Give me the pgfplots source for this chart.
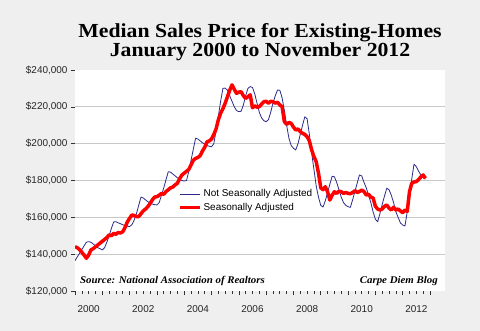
\documentclass[border=0pt]{standalone}
\usepackage{fontspec}
\setmainfont{Liberation Serif}
\setsansfont{Liberation Sans}
\newfontfamily\titlefont{Liberation Serif}[FakeStretch=1.09]
\newfontfamily\srcfont{Liberation Serif}[FakeStretch=1.06]
\usepackage{pgfplots}
\usepackage{pgfplotstable}
\pgfplotsset{compat=1.18}
\definecolor{bg}{HTML}{EFEFEF}
\definecolor{nsa}{HTML}{2B2B8C}
\definecolor{grd}{HTML}{C8C8C8}
\pgfplotstableread{
m nsa sa
0 136.5 144.1
1 138.5 143.5
2 140.5 142.5
3 142.5 141.0
4 144.5 139.5
5 146.5 137.8
6 146.8 139.5
7 146.5 142.3
8 145.5 143.0
9 144.5 144.0
10 143.5 145.0
11 143.0 146.0
12 142.3 147.0
13 143.5 148.0
14 146.5 149.0
15 150.0 150.5
16 154.0 150.0
17 157.5 151.3
18 157.6 150.8
19 157.0 151.8
20 156.5 151.5
21 156.0 152.2
22 155.5 154.5
23 155.2 157.5
24 155.0 159.5
25 156.0 161.3
26 158.5 161.0
27 162.0 160.4
28 166.5 160.4
29 171.0 162.0
30 170.5 163.5
31 169.5 164.5
32 168.5 165.8
33 167.8 167.5
34 167.2 169.5
35 166.9 171.0
36 166.7 171.2
37 168.0 172.0
38 172.0 173.0
39 176.0 172.5
40 180.5 174.0
41 184.8 175.0
42 184.5 176.0
43 183.5 176.5
44 182.5 177.6
45 181.5 178.5
46 180.5 181.0
47 180.0 183.0
48 179.7 184.0
49 180.0 185.0
50 185.0 186.0
51 191.0 188.5
52 197.0 191.0
53 203.0 192.0
54 202.5 192.5
55 201.5 193.5
56 200.5 196.0
57 199.8 198.0
58 199.0 201.0
59 198.6 201.5
60 198.3 202.5
61 200.0 205.0
62 207.0 208.0
63 215.0 213.0
64 223.0 216.5
65 230.0 219.0
66 230.2 222.0
67 229.0 225.5
68 226.0 229.0
69 223.0 231.9
70 220.0 229.5
71 218.0 227.3
72 217.4 228.0
73 217.6 228.2
74 221.0 226.0
75 226.0 224.6
76 230.0 225.5
77 231.0 226.5
78 230.5 219.5
79 227.0 220.5
80 222.0 219.8
81 217.0 220.1
82 214.0 221.5
83 212.5 222.8
84 211.9 223.0
85 213.0 222.0
86 217.0 223.0
87 222.0 222.8
88 226.0 222.0
89 229.1 222.5
90 229.0 221.0
91 225.0 220.1
92 218.0 212.0
93 210.0 210.5
94 203.0 211.5
95 199.0 211.0
96 197.5 209.0
97 196.6 207.4
98 200.0 208.0
99 205.0 206.5
100 210.0 205.6
101 214.6 205.0
102 213.5 203.8
103 205.0 201.5
104 195.0 196.6
105 186.0 193.0
106 177.0 190.2
107 171.0 184.0
108 166.5 176.0
109 165.6 175.0
110 169.0 176.6
111 173.5 173.9
112 178.0 169.4
113 182.3 172.0
114 182.0 173.9
115 179.0 173.0
116 175.0 174.2
117 171.0 173.9
118 168.0 173.0
119 166.5 173.5
120 165.8 173.0
121 165.4 172.8
122 169.5 173.5
123 174.0 174.5
124 178.5 173.5
125 183.0 174.0
126 182.5 174.8
127 179.0 174.0
128 176.0 172.1
129 172.0 172.5
130 168.0 171.0
131 163.0 170.5
132 159.0 166.0
133 157.6 164.5
134 162.0 164.0
135 167.0 164.5
136 171.5 166.0
137 175.8 166.7
138 175.0 165.0
139 172.0 164.0
140 168.0 165.5
141 163.0 164.0
142 160.0 164.5
143 157.0 163.5
144 155.8 162.5
145 155.3 164.0
146 163.0 163.2
147 172.0 174.0
148 181.0 178.5
149 188.9 179.2
150 187.5 179.4
151 185.0 180.5
152 183.0 182.0
153 181.5 183.0
154 180.7 181.2
}\homes
\begin{document}
\begin{tikzpicture}
\useasboundingbox (0,0) rectangle (480bp,331bp);
\fill[bg] (0,0) rectangle (480bp,331bp);
\begin{axis}[
  at={(75bp,40bp)}, anchor=south west,
  width=370bp, height=221bp, scale only axis,
  xmin=0, xmax=162.6, ymin=120, ymax=240,
  axis background/.style={fill=white},
  axis line style={draw=none},
  tick align=outside, xtick pos=bottom, ytick pos=left,
  xtick={0,12,...,156}, xticklabels={},
  minor x tick num=3,
  major tick length=4bp, minor tick length=2.5bp,
  ytick={140,160,180,200,220},
  yticklabels={{\$140,000},{\$160,000},{\$180,000},{\$200,000},{\$220,000}},
  ymajorgrids, grid style={grd, line width=0.8bp},
  extra y ticks={120,240}, extra y tick labels={{\$120,000},{\$240,000}},
  extra y tick style={grid=none},
  extra x ticks={6,30,54,78,102,126,150},
  extra x tick labels={2000,2002,2004,2006,2008,2010,2012},
  extra x tick style={major tick length=0pt, grid=none, xticklabel style={yshift=-11bp}},
  tick style={color=black!80, line width=0.6bp},
  ticklabel style={font=\sffamily\fontsize{10}{12}\selectfont, color=black!85},
  legend style={at={(0.27,0.477)}, anchor=north west, draw=none, fill=none,
    font=\sffamily\fontsize{10}{12}\selectfont, row sep=0.5bp},
  legend cell align=left,
  legend image code/.code={\draw[#1] (0bp,0bp) -- (20bp,0bp);},
]
\addplot[nsa, line width=0.8bp, line join=round] table[x=m, y=nsa] {\homes};
\addlegendentry{Not Seasonally Adjusted}
\addplot[red, line width=3.5bp, line join=round] table[x=m, y=sa] {\homes};
\addlegendentry{Seasonally Adjusted}
\end{axis}
\node[anchor=base, inner sep=0pt, align=center, font=\titlefont\bfseries\fontsize{20}{17}\selectfont] at (260bp,274.5bp) {Median Sales Price for Existing-Homes\\January 2000 to November 2012};
\node[anchor=base west, inner sep=0pt, font=\srcfont\bfseries\itshape\fontsize{10.3}{11}\selectfont] at (80bp,47bp) {Source: National Association of Realtors};
\node[anchor=base east, inner sep=0pt, font=\srcfont\bfseries\itshape\fontsize{10.3}{11}\selectfont] at (438bp,47bp) {Carpe Diem Blog};
\end{tikzpicture}
\end{document}
